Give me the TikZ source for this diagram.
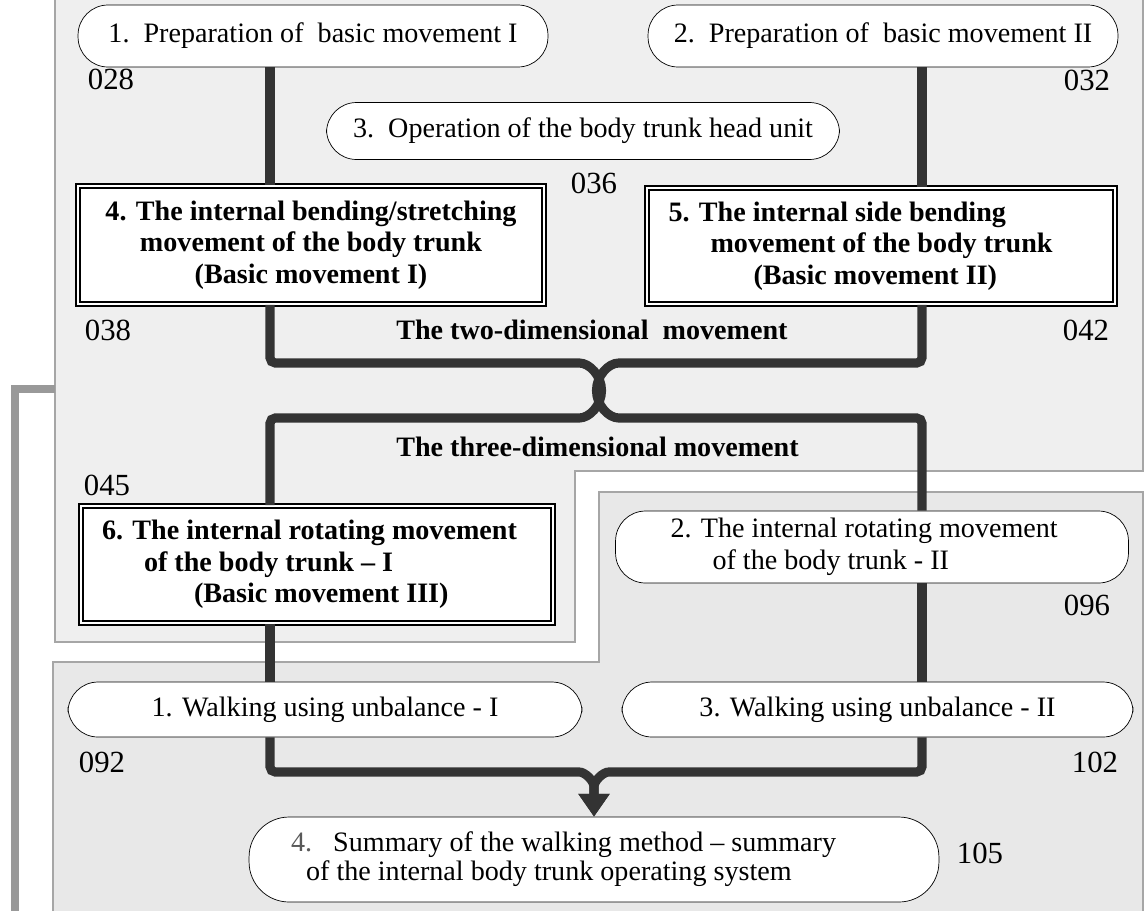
\documentclass[tikz,border=0pt]{standalone}
\usepackage{fontspec}
\setmainfont{Liberation Serif}
\usetikzlibrary{arrows.meta}
\definecolor{linkgray}{HTML}{333333}
\definecolor{brackgray}{HTML}{999999}
\definecolor{upfill}{HTML}{EFEFEF}
\definecolor{lowfill}{HTML}{E8E8E8}
\definecolor{regline}{HTML}{A6A6A6}

\begin{document}
\begin{tikzpicture}[x=0.02cm, y=0.02cm,
          every node/.style={font=\fontsize{16}{18}\selectfont},
          pill/.style={rectangle, rounded corners=0.6cm, draw=black,
                       thin, fill=white, inner sep=0pt,
                       minimum height=1.24cm},
          dbox/.style={rectangle, draw=black, double, double distance=1.6pt,
                       line width=0.9pt, fill=white, inner sep=0pt,
                       font=\fontsize{16}{18}\selectfont\bfseries},
          link/.style={draw=linkgray, line width=5.2pt, rounded corners=3pt},
          tiplink/.style={link, -{Triangle[width=17pt, length=13pt]}},
          num/.style={inner sep=0pt, font=\fontsize{17.5}{18}\selectfont},
          region/.style={draw=regline, line width=0.8pt}
        ]
        \useasboundingbox (0,0) rectangle (1145,-910);
        %% Background regions
        \draw[region, fill=upfill] (55,10) -- (55,-642) -- (575,-642)
              -- (575,-471) -- (1143,-471) -- (1143,10) -- cycle;
        \draw[region, fill=lowfill] (53,-920) -- (53,-662) -- (599,-662)
              -- (599,-492) -- (1143,-492) -- (1143,-920) -- cycle;
        %% Bracket on the left
        \coordinate (brkA) at (55,-389);
        \coordinate (brkB) at (15,-915);
        \draw[brackgray, line width=4pt] (brkA) -| (brkB);
        %% Preparation
        \node[pill, minimum width=9.4cm] (prep1) at (313,-36)
              {1.\ \ Preparation of\ \ basic movement I};
        \node[pill, minimum width=9.4cm] (prep2) at (883,-36)
              {2.\ \ Preparation of\ \ basic movement II};
        \node[pill, minimum width=10.26cm, minimum height=1.14cm] (headop)
              at (583,-131) {3.\ \ Operation of the body trunk head unit};
        %% Basic movements
        \node[dbox, minimum width=9.32cm, minimum height=2.36cm, align=center]
              (bend) at (311,-245)
              {4. The internal bending/stretching\\movement of the body trunk\\(Basic movement I)};
        \node[dbox, text width=8.5cm, inner xsep=0.43cm, minimum height=2.32cm,
              align=flush left] (side) at (881,-246)
              {5. The internal side bending\\\hspace*{0.84cm}movement of the body trunk\\\hspace*{1.7cm}(Basic movement II)};
        \node[dbox, text width=8.6cm, inner xsep=0.42cm, minimum height=2.34cm,
              align=flush left] (rot1) at (317,-564.5)
              {6. The internal rotating movement\\\hspace*{0.84cm}of the body trunk -- I\\\hspace*{1.84cm}(Basic movement III)};
        \node[pill, text width=8.06cm, inner xsep=1.1cm, minimum height=1.44cm,
              align=flush left] (rot2) at (872,-547)
              {2. The internal rotating movement\\\hspace*{0.84cm}of the body trunk - II};
        %% Walking
        \node[pill, minimum width=10.28cm, minimum height=1.1cm] (walk1)
              at (325,-709.5) {1. Walking using unbalance - I};
        \node[pill, minimum width=10.22cm, minimum height=1.1cm] (walk2)
              at (877.5,-709.5) {3. Walking using unbalance - II};
        \node[pill, rounded corners=0.8cm, text width=12.12cm, inner xsep=0.84cm,
              minimum height=1.7cm, align=flush left,
              font=\fontsize{16}{16.5}\selectfont] (summ) at (594,-859.5)
              {{\color{black!65}4.}\ \ \ Summary of the walking method -- summary\\\hspace*{0.3cm}of the internal body trunk operating system};
        %% Headings
        \node[num, anchor=west, font=\fontsize{16}{18}\selectfont\bfseries]
              (twod) at (396,-330) {The two-dimensional\ \ movement};
        \node[num, anchor=west, font=\fontsize{16}{18}\selectfont\bfseries]
              (threed) at (396,-447) {The three-dimensional movement};
        %% Page numbers
        \node[num] (p028) at (111,-79) {028};
        \node[num] (p032) at (1087,-80) {032};
        \node[num] (p036) at (594,-183) {036};
        \node[num] (p038) at (108,-330) {038};
        \node[num] (p042) at (1086,-330) {042};
        \node[num] (p045) at (107,-485) {045};
        \node[num] (p096) at (1087,-605) {096};
        \node[num] (p092) at (102,-762) {092};
        \node[num] (p102) at (1095,-762) {102};
        \node[num] (p105) at (980,-853) {105};
        %% Connectors
        \coordinate (xl) at (270,0);
        \coordinate (xr) at (922,0);
        \coordinate (cup) at (599,-363);
        \coordinate (mrg) at (594,-772);
        \draw[link] (prep1.south -| xl) -- (bend.north -| xl);
        \draw[link] (prep2.south -| xr) -- (side.north -| xr);
        \draw[link] (bend.south -| xl) |- ([xshift=-0.5cm]cup)
              arc[start angle=90, end angle=-90, radius=0.55cm]
              -| (rot1.north -| xl);
        \draw[link] (side.south -| xr) |- ([xshift=0.5cm]cup)
              arc[start angle=90, end angle=270, radius=0.55cm]
              -| (rot2.north -| xr);
        \draw[link] (rot1.south -| xl) -- (walk1.north -| xl);
        \draw[link] (rot2.south -| xr) -- (walk2.north -| xr);
        \draw[tiplink] (walk1.south -| xl) |- ([xshift=-0.4cm]mrg)
              arc[start angle=90, end angle=0, radius=0.4cm] -- (summ.north);
        \draw[tiplink] (walk2.south -| xr) |- ([xshift=0.4cm]mrg)
              arc[start angle=90, end angle=180, radius=0.4cm] -- (summ.north);
      \end{tikzpicture}
\end{document}
